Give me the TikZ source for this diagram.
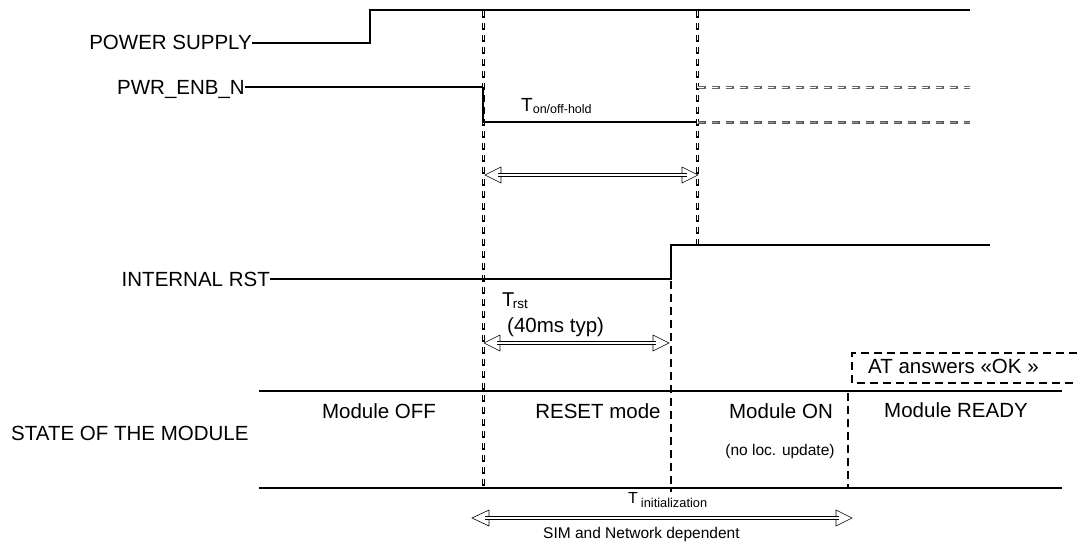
\documentclass[tikz,border=0pt]{standalone}
\usepackage{fontspec}
\setmainfont{Liberation Sans}
\begin{document}
\begin{tikzpicture}[x=1pt,y=-1pt,
  sig/.style={line width=1.4pt},
  lbl/.style={font=\fontsize{20.5}{24}\selectfont, inner sep=0pt},
  small/.style={font=\fontsize{15.5}{18}\selectfont, inner sep=0pt},
  hollowdash/.style={draw=white, line width=1pt, dash pattern=on 5pt off 7pt, dash phase=-1pt,
     preaction={draw=black, line width=3.2pt, dash pattern=on 7pt off 5pt}},
  greyhollow/.style={draw=white, line width=1pt, dash pattern=on 6pt off 8pt, dash phase=-1pt,
     preaction={draw=black!60, line width=3.2pt, dash pattern=on 8pt off 6pt}},
  greyfill/.style={draw=black!40, line width=1pt, dash pattern=on 6pt off 8pt, dash phase=-1pt,
     preaction={draw=black!65, line width=3.2pt, dash pattern=on 8pt off 6pt}},
  thickdash/.style={line width=2.5pt, dash pattern=on 8pt off 5pt},
  tipstyle/.style={draw=black, fill=white, line width=0.6pt, line join=miter},
  shaft/.style={draw=black, double=white, line width=0.6pt, double distance=2pt}]
\useasboundingbox (0,0) rectangle (1078,542);

% key coordinates
\coordinate (t1top) at (483.5,10);
\coordinate (t1bot) at (483.5,490);
\coordinate (t3top) at (697.5,10);
\coordinate (t3bot) at (697.5,245);

% hollow dashed timing lines
\draw[hollowdash] (t1top) -- (t1bot);
\draw[hollowdash] (t3top) -- (t3bot);

% POWER SUPPLY
\node[lbl, anchor=base east] (ps) at (252,49) {POWER SUPPLY};
\draw[sig] (252,43) -- (370,43) -- (370,10) -- (970,10);

% PWR_ENB_N
\node[lbl, anchor=base east] (pwr) at (245,94) {PWR\_ENB\_N};
\draw[sig] (245,87) -- (483,87);
\draw[line width=2.5pt] (483,87) -- (483,122);
\draw[sig] (483,122) -- (697,122);
\draw[greyhollow] (697,87.5) -- (970,87.5);
\draw[greyfill] (697,122.5) -- (970,122.5);
\node[inner sep=0pt, anchor=base west] (ton) at (521,111)
  {{\fontsize{19}{20}\selectfont T}{\fontsize{12.5}{14}\selectfont\raisebox{-2pt}{on/off-hold}}};

% arrow T on/off-hold
\coordinate (a1l) at (485,175);
\coordinate (a1r) at (698,175);
\draw[tipstyle] (a1l) -- ++(16,-8) -- ++(0,16) -- cycle;
\draw[tipstyle] (a1r) -- ++(-16,-8) -- ++(0,16) -- cycle;
\draw[shaft] ([xshift=13pt]a1l) -- ([xshift=-11pt]a1r);

% INTERNAL RST
\node[lbl, anchor=base east] (irst) at (270,286) {INTERNAL RST};
\draw[sig] (270,279) -- (671,279) -- (671,245) -- (990,245);
\draw[thickdash] (671,281) -- (671,492);
\node[inner sep=0pt, anchor=base west] (trst) at (502,306)
  {{\fontsize{20}{22}\selectfont T}{\fontsize{13.5}{15}\selectfont\kern-1.5pt\raisebox{-2pt}{rst}}};
\node[lbl, anchor=base west] (typ) at (507,332) {(40ms typ)};

% arrow T rst
\coordinate (a2l) at (484,343);
\coordinate (a2r) at (669,343);
\draw[tipstyle] (a2l) -- ++(16,-8) -- ++(0,16) -- cycle;
\draw[tipstyle] (a2r) -- ++(-16,-8) -- ++(0,16) -- cycle;
\draw[shaft] ([xshift=13pt]a2l) -- ([xshift=-13pt]a2r);

% STATE OF THE MODULE
\node[lbl, anchor=base west] (state) at (11,440) {STATE OF THE MODULE};
\draw[sig] (259,391) -- (1062,391);
\draw[sig] (259,488) -- (1062,488);
\draw[thickdash] (848,393) -- (848,487);
\node[lbl, anchor=base] (off) at (379,418) {Module OFF};
\node[lbl, anchor=base] (rst) at (598,418) {RESET mode};
\node[lbl, anchor=base] (on) at (781,418) {Module ON};
\node[small, anchor=base] (noloc) at (780,455) {(no loc. update)};
\node[lbl, anchor=base] (ready) at (956,417) {Module READY};

% AT answers box
\node[lbl, anchor=base west] (at) at (868,373) {AT answers «OK »};
\draw[thickdash] (1090,353) -- (852,353) -- (852,383) -- (1090,383);

% T initialization
\node[inner sep=0pt, anchor=base west] (tinit) at (628,503)
  {{\fontsize{16}{18}\selectfont T}{\fontsize{12.8}{14}\selectfont\hspace{3pt}\raisebox{-4pt}{initialization}}};
\coordinate (a3l) at (472,518);
\coordinate (a3r) at (852,518);
\draw[tipstyle] (a3l) -- ++(17,-8) -- ++(0,16) -- cycle;
\draw[tipstyle] (a3r) -- ++(-16,-8) -- ++(0,16) -- cycle;
\draw[shaft] ([xshift=13pt]a3l) -- ([xshift=-13pt]a3r);
\node[small, anchor=base west] (sim) at (543,538) {SIM and Network dependent};
\end{tikzpicture}
\end{document}
